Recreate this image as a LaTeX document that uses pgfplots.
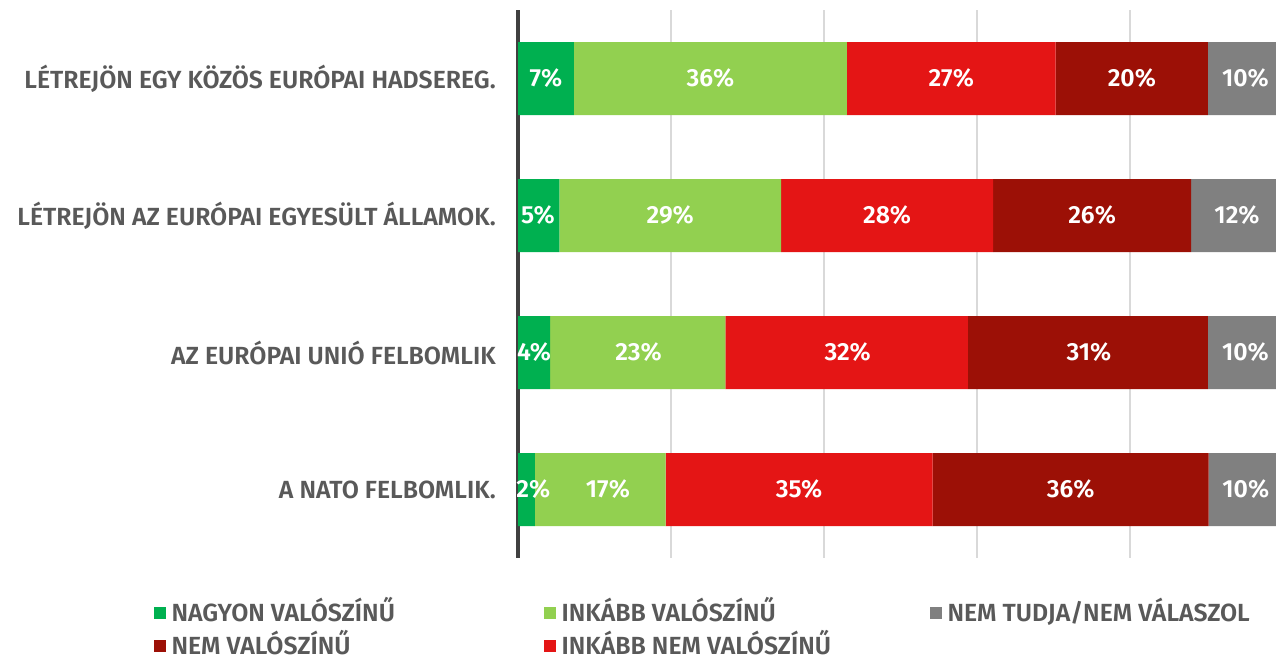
\documentclass[border=0pt]{standalone}
\usepackage{fontspec}
\setmainfont{Fira Sans}[BoldFont={Fira Sans SemiBold}]
\usepackage{pgfplots}
\pgfplotsset{compat=1.18}
\definecolor{cA}{HTML}{00B050}
\definecolor{cB}{HTML}{92D050}
\definecolor{cC}{HTML}{E41515}
\definecolor{cD}{HTML}{9C1006}
\definecolor{cE}{HTML}{808080}
\definecolor{txt}{HTML}{595959}
\definecolor{gridc}{HTML}{D9D9D9}
\definecolor{axc}{HTML}{404040}
\begin{document}
\begin{tikzpicture}[x=1pt,y=1pt]
\path[use as bounding box] (0,0) rectangle (957,-494.25);
\pgfplotsset{common/.style={
  at={(388.5pt,-7.5pt)}, anchor=north west, scale only axis,
  width=568.5pt, height=411pt,
  xmin=0, xmax=99.1, ymin=-0.5, ymax=3.5, y dir=reverse}}
\begin{axis}[common,
  xbar stacked, bar width=54.75pt,
  ytick={0,1,2,3},
  yticklabels={LÉTREJÖN EGY KÖZÖS EURÓPAI HADSEREG.,LÉTREJÖN AZ EURÓPAI EGYESÜLT ÁLLAMOK.,AZ EURÓPAI UNIÓ FELBOMLIK,A NATO FELBOMLIK.},
  yticklabel style={font=\fontsize{18.6}{22}\selectfont\bfseries, text=txt, inner sep=0pt, xshift=-16.5pt},
  xtick={20,40,60,80}, xticklabels={},
  extra x ticks={0}, extra x tick labels={},
  extra x tick style={grid style={line width=3.4pt, color=axc}},
  xmajorgrids, grid style={line width=2pt, color=gridc},
  major tick length=0pt, axis line style={draw=none},
]
\addplot+[fill=cA, draw=none] coordinates {(7.3,0) (5.4,1) (4.2,2) (2.2,3)};
\addplot+[fill=cB, draw=none] coordinates {(35.7,0) (29.0,1) (22.9,2) (17.1,3)};
\addplot+[fill=cC, draw=none] coordinates {(27.3,0) (27.7,1) (31.7,2) (34.9,3)};
\addplot+[fill=cD, draw=none] coordinates {(19.9,0) (25.9,1) (31.4,2) (36.1,3)};
\addplot+[fill=cE, draw=none] coordinates {(9.8,0) (12.0,1) (9.8,2) (9.7,3)};
\end{axis}
\begin{axis}[common, hide axis, clip=false,
  legend columns=3,
  legend image code/.code={\fill[#1] (0pt,-4.5pt) rectangle (9pt,4.5pt);},
  legend style={draw=none, fill=none, at={(-0.4855,-0.0785)}, anchor=north west,
    font=\fontsize{18.6}{22}\selectfont\bfseries, text=txt,
    nodes={inner sep=0pt, text height=13.5pt, text depth=0.5pt}, column sep=0pt, row sep=10.5pt},
  legend cell align=left,
]
\addplot[draw=none, mark=none, forget plot, nodes near coords, point meta=explicit symbolic,
  nodes near coords style={anchor=center, text=white, font=\fontsize{18.6}{22}\selectfont\bfseries}]
 coordinates {
 (3.65,0) [7\%] (25.15,0) [36\%] (56.65,0) [27\%] (80.25,0) [20\%] (95.1,0) [10\%]
 (2.6,1) [5\%] (19.9,1) [29\%] (48.25,1) [28\%] (75.05,1) [26\%] (94.0,1) [12\%]
 (2.1,2) [4\%] (15.75,2) [23\%] (43.1,2) [32\%] (74.65,2) [31\%] (95.1,2) [10\%]
 (2.0,3) [2\%] (11.75,3) [17\%] (36.75,3) [35\%] (72.25,3) [36\%] (95.15,3) [10\%]
 };
\addlegendimage{fill=cA, draw=none}
\addlegendentry{\makebox[283.5pt][l]{\hspace*{4pt}NAGYON VALÓSZÍNŰ}}
\addlegendimage{fill=cB, draw=none}
\addlegendentry{\makebox[280.5pt][l]{\hspace*{4pt}INKÁBB VALÓSZÍNŰ}}
\addlegendimage{fill=cE, draw=none}
\addlegendentry{\hspace*{4pt}NEM TUDJA/NEM VÁLASZOL}
\addlegendimage{fill=cD, draw=none}
\addlegendentry{\makebox[283.5pt][l]{\hspace*{4pt}NEM VALÓSZÍNŰ}}
\addlegendimage{fill=cC, draw=none}
\addlegendentry{\makebox[280.5pt][l]{\hspace*{4pt}INKÁBB NEM VALÓSZÍNŰ}}
\end{axis}
\end{tikzpicture}
\end{document}
